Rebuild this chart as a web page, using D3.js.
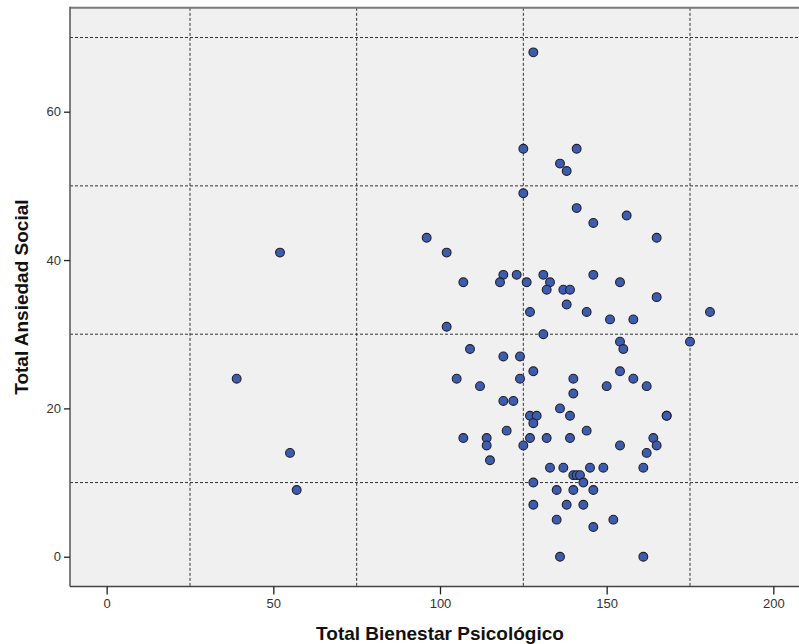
<!DOCTYPE html>
<html>
<head>
<meta charset="utf-8">
<script src="https://cdn.jsdelivr.net/npm/d3@7"></script>
<style>
  html, body { margin: 0; padding: 0; background: #ffffff; }
  svg { display: block; }
</style>
</head>
<body>
<script>
// Data: Total Bienestar Psicológico (x) vs Total Ansiedad Social (y)
const bienestar = [128,125,141,136,138,125,141,156,146,96,165,52,102,119,123,131,146,107,118,126,133,154,132,137,139,165,138,127,144,181,151,158,102,131,154,175,109,155,119,124,128,154,39,105,124,140,158,112,150,162,140,119,122,136,127,129,139,168,168,128,120,144,107,114,127,132,139,164,114,125,154,165,55,162,115,133,137,145,149,161,140,141,142,128,143,57,135,140,146,128,138,143,135,152,146,136,161];
const ansiedad  = [68,55,55,53,52,49,47,46,45,43,43,41,41,38,38,38,38,37,37,37,37,37,36,36,36,35,34,33,33,33,32,32,31,30,29,29,28,28,27,27,25,25,24,24,24,24,24,23,23,23,22,21,21,20,19,19,19,19,19,18,17,17,16,16,16,16,16,16,15,15,15,15,14,14,13,12,12,12,12,12,11,11,11,10,10,9,9,9,9,7,7,7,5,5,4,0,0];
const xTicks = [0, 50, 100, 150, 200];
const yTicks = [0, 20, 40, 60];
const xRefLines = [25, 75, 125, 175];
const yRefLines = [10, 30, 50, 70];
const xTitle = "Total Bienestar Psicológico";
const yTitle = "Total Ansiedad Social";

(function () {
const W = 799, H = 644;
const svg = d3.select("body").append("svg").attr("width", W).attr("height", H);
svg.append("rect").attr("width", W).attr("height", H).attr("fill", "#ffffff");

const x = d3.scaleLinear().domain([-11, 211]).range([70, 810]);
const y = d3.scaleLinear().domain([-4, 74]).range([586.4, 7.85]);

const pLeft = x(-11), pRight = x(211), pTop = y(74), pBottom = y(-4);

// plot background
svg.append("rect").attr("x", pLeft).attr("y", pTop)
  .attr("width", pRight - pLeft).attr("height", pBottom - pTop)
  .attr("fill", "#f0f0f0");

// reference lines
const g = svg.append("g");
g.selectAll("line.h").data(yRefLines).join("line").attr("class", "h")
  .attr("x1", pLeft).attr("x2", pRight)
  .attr("y1", d => y(d)).attr("y2", d => y(d))
  .attr("stroke", "#333").attr("stroke-width", 1).attr("stroke-dasharray", "3,2");
g.selectAll("line.v").data(xRefLines).join("line").attr("class", "v")
  .attr("y1", pTop).attr("y2", pBottom)
  .attr("x1", d => x(d)).attr("x2", d => x(d))
  .attr("stroke", "#333").attr("stroke-width", 1).attr("stroke-dasharray", "3,2");

// frame
svg.append("line").attr("x1", pLeft).attr("x2", pRight).attr("y1", pTop).attr("y2", pTop)
  .attr("stroke", "#7a7a7a").attr("stroke-width", 2);
svg.append("line").attr("x1", pLeft).attr("x2", pLeft).attr("y1", pTop - 1).attr("y2", pBottom)
  .attr("stroke", "#555").attr("stroke-width", 1.5);

// axes
const xAxis = d3.axisBottom(x).tickValues(xTicks).tickSize(8).tickPadding(4).tickFormat(d3.format("d"));
const yAxis = d3.axisLeft(y).tickValues(yTicks).tickSize(6).tickPadding(3).tickFormat(d3.format("d"));

const gx = svg.append("g").attr("transform", `translate(0,${pBottom})`).call(xAxis);
const gy = svg.append("g").attr("transform", `translate(${pLeft},0)`).call(yAxis);
[gx, gy].forEach(a => {
  a.select(".domain").attr("stroke", "#444").attr("stroke-width", 1.5);
  a.selectAll(".tick line").attr("stroke", "#222").attr("stroke-width", 1.3);
  a.selectAll(".tick text").attr("fill", "#333")
    .style("font-family", "'Liberation Sans', Arial, sans-serif").style("font-size", "13px");
});
gx.select(".domain").attr("d", `M${pLeft},0H${pRight}`);
gy.select(".domain").remove();

// points
const pts = bienestar.map((b, i) => ({b, a: ansiedad[i]}));
svg.append("g").selectAll("circle").data(pts).join("circle")
  .attr("cx", d => x(d.b)).attr("cy", d => y(d.a)).attr("r", 4.4)
  .attr("fill", "#3e5cae").attr("stroke", "#1e1e2a").attr("stroke-width", 1.1);

// titles
svg.append("text").attr("x", 440).attr("y", 640).attr("text-anchor", "middle")
  .style("font-family", "'Liberation Sans', Arial, sans-serif").style("font-weight", "bold")
  .style("font-size", "19px").attr("fill", "#111").text(xTitle);
svg.append("text").attr("transform", `translate(28,${(pTop + pBottom) / 2}) rotate(-90)`)
  .attr("text-anchor", "middle")
  .style("font-family", "'Liberation Sans', Arial, sans-serif").style("font-weight", "bold")
  .style("font-size", "19px").attr("fill", "#111").text(yTitle);
})();
</script>
</body>
</html>
